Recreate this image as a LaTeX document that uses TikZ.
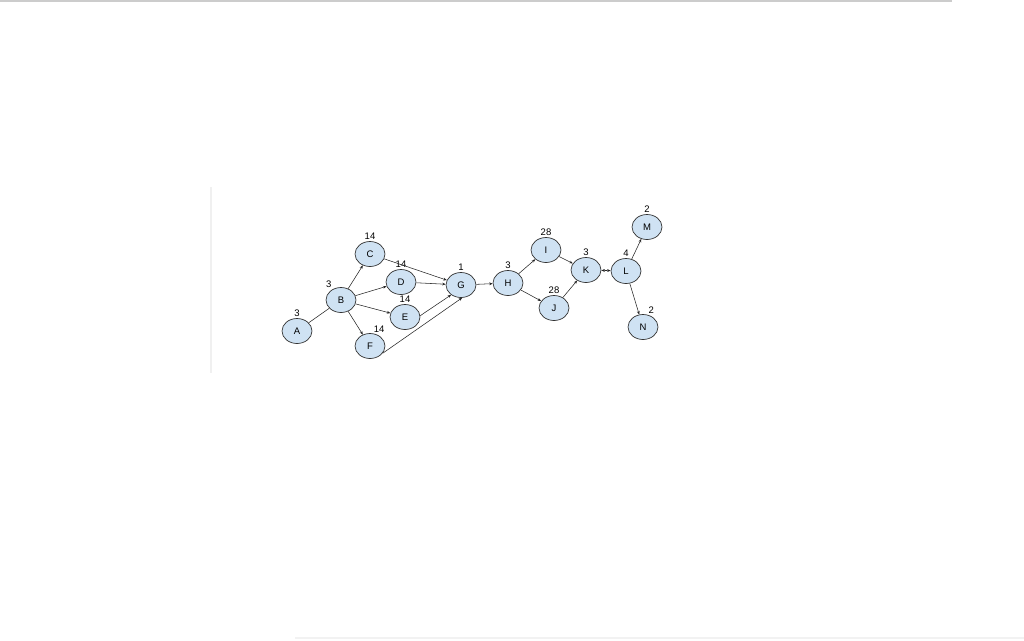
\documentclass[tikz,border=0pt]{standalone}
\usepackage{fontspec}
\setmainfont{Liberation Sans}
\usetikzlibrary{shapes.geometric,arrows.meta}
\definecolor{nodefill}{HTML}{CFE2F3}
\begin{document}
\begin{tikzpicture}[>={Stealth[length=3.5pt,width=2.8pt]},x=1pt,y=-1pt,font=\fontsize{9.5}{11}\selectfont,
    task/.style={ellipse,draw=black!80,fill=nodefill,line width=0.7pt,minimum width=30pt,minimum height=25pt,inner sep=0pt},
    dur/.style={inner sep=1pt},
    every label/.style={dur},
    edge/.style={draw=black!85,line width=0.55pt}]
    \useasboundingbox (0,0) rectangle (1024,640);
    % window frame
    \fill[black!20] (0,0) rectangle (952,2);
    \fill[black!6] (210,187) rectangle (212,373);
    \fill[black!5] (295,637) rectangle (1024,639);
    % tasks
    \node[task,label={above:3}] (A) at (297,331) {A};
    \node[task,label={128:3}] (B) at (341,300) {B};
    \node[task,label={above:14}] (C) at (370,254) {C};
    \node[task,label={above:14}] (D) at (401,282) {D};
    \node[task,label={above:14}] (E) at (405,317) {E};
    \node[task,label={78:14}] (F) at (370,346) {F};
    \node[task,label={above:1}] (G) at (461,285) {G};
    \node[task,label={above:3}] (H) at (508,283) {H};
    \node[task,label={above:28}] (I) at (546,250) {I};
    \node[task,label={above:28}] (J) at (554,308) {J};
    \node[task,label={above:3}] (K) at (586,270) {K};
    \node[task,label={above:4}] (L) at (626,271) {L};
    \node[task,label={above:2}] (M) at (647,227) {M};
    \node[task,label={70:2}] (N) at (643,327) {N};
    % dependencies
    \draw[edge] (A) -- (B);
    \foreach \t in {C,D,E,F} \draw[edge,->] (B) -- (\t);
    \draw[edge,->] (C) -- (G);
    \draw[edge,->] (D) -- (G);
    \draw[edge,->] (E.5) -- (G.-135);
    \draw[edge,->] (F.-30) -- (G.-85);
    \draw[edge,->] (G) -- (H);
    \draw[edge,->] (H) -- (I);
    \draw[edge,->] (H) -- (J);
    \draw[edge,->] (I) -- (K);
    \draw[edge,->] (J) -- (K);
    \draw[edge,<->] (K) -- (L);
    \draw[edge,->] (L) -- (M);
    \draw[edge,->] (L) -- (N);
\end{tikzpicture}
\end{document}
